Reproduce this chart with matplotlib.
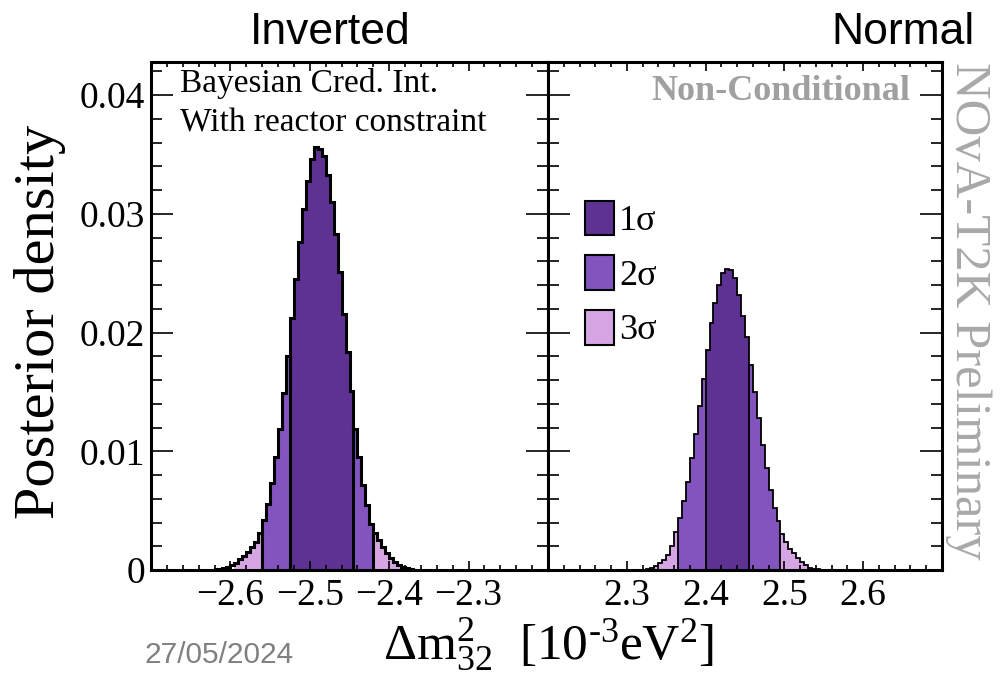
import numpy as np
import matplotlib.pyplot as plt
from matplotlib.patches import Patch
from matplotlib.ticker import MultipleLocator, FuncFormatter

plt.rcParams['font.family'] = ['Liberation Serif', 'DejaVu Serif']
plt.rcParams['mathtext.fontset'] = 'custom'
plt.rcParams['mathtext.rm'] = 'Liberation Serif'
plt.rcParams['mathtext.it'] = 'Liberation Serif:italic'

bin_width = 0.005

# Inverted ordering: posterior density per bin, first bin starts at io_first_edge
io_first_edge = -2.625
io_density = [0.00003, 0.00006, 0.0001, 0.00015, 0.00025, 0.0004, 0.0006, 0.0009,
              0.0012, 0.0015, 0.0019, 0.0024, 0.0031, 0.0042, 0.0056, 0.0073,
              0.0095, 0.0119, 0.0149, 0.0180, 0.0212, 0.0245, 0.0276, 0.0304,
              0.0328, 0.0346, 0.0356, 0.0355, 0.0349, 0.0333, 0.0310, 0.0283,
              0.0251, 0.0216, 0.0184, 0.0151, 0.0119, 0.0095, 0.0072, 0.0055,
              0.0039, 0.0031, 0.0025, 0.0019, 0.0014, 0.0010, 0.0007, 0.0004,
              0.00025, 0.00014, 0.00007, 0.00003]
io_intervals = [(-2.525, -2.445), (-2.560, -2.420), (-2.595, -2.385)]  # 1, 2, 3 sigma
io_ticks = [-2.6, -2.5, -2.4, -2.3]
io_xlim = (-2.7, -2.2)

# Normal ordering
no_first_edge = 2.320
no_density = [0.00003, 0.00007, 0.00014, 0.00034, 0.00056, 0.00084, 0.0013, 0.0020,
              0.0032, 0.0044, 0.0058, 0.0074, 0.0094, 0.0115, 0.0138, 0.0161,
              0.0185, 0.0208, 0.0225, 0.0240, 0.0250, 0.0254, 0.0253, 0.0246,
              0.0232, 0.0214, 0.0196, 0.0173, 0.0150, 0.0128, 0.0105, 0.0086,
              0.0067, 0.0052, 0.0041, 0.0030, 0.0024, 0.0018, 0.0014, 0.0010,
              0.0007, 0.0004, 0.0002, 0.0001, 0.00005]
no_intervals = [(2.400, 2.455), (2.365, 2.495), (2.330, 2.535)]
no_ticks = [2.3, 2.4, 2.5, 2.6]
no_xlim = (2.2, 2.7)

sigma_labels = ['1σ', '2σ', '3σ']
sigma_colors = ['#5e3293', '#8354be', '#d6a6e4']


def draw_panel(ax, first_edge, density, intervals, lw):
    density = np.array(density)
    edges = first_edge + bin_width * np.arange(len(density) + 1)
    centers = 0.5 * (edges[:-1] + edges[1:])
    # fill from widest interval to narrowest
    for (lo, hi), col in list(zip(intervals, sigma_colors))[::-1]:
        inside = (centers > lo) & (centers < hi)
        ax.stairs(np.where(inside, density, 0), edges, fill=True, color=col, linewidth=0)
    ax.stairs(density, edges, color='black', linewidth=lw)
    for lo, hi in intervals[:2]:
        for b in (lo, hi):
            i = np.argmin(np.abs(edges - b))
            ax.vlines(edges[i], 0, min(density[i - 1], density[i]), color='black', linewidth=lw)


fig = plt.figure(figsize=(10.06, 6.73), dpi=100)
W, H = 1006, 673
ax1 = fig.add_axes([151 / W, 103 / H, 397 / W, 508 / H])
ax2 = fig.add_axes([548 / W, 103 / H, 394 / W, 508 / H], sharey=ax1)

draw_panel(ax1, io_first_edge, io_density, io_intervals, 2.2)
draw_panel(ax2, no_first_edge, no_density, no_intervals, 1.3)

ax1.set_xlim(*io_xlim)
ax2.set_xlim(*no_xlim)
ax1.set_xticks(io_ticks)
ax2.set_xticks(no_ticks)
ax1.set_ylim(0, 0.0428)
ax1.yaxis.set_major_locator(MultipleLocator(0.01))
ax1.yaxis.set_minor_locator(MultipleLocator(0.002))
ax1.yaxis.set_major_formatter(FuncFormatter(lambda v, p: '0' if abs(v) < 1e-9 else f'{v:.2f}'))

for ax in (ax1, ax2):
    ax.xaxis.set_minor_locator(MultipleLocator(0.02))
    ax.tick_params(which='both', direction='in', top=True, right=True, width=1.2)
    ax.tick_params(axis='x', which='major', length=6.5, pad=6, labelsize=27)
    ax.tick_params(axis='x', which='minor', length=3.6)
    ax.tick_params(axis='y', which='major', length=15.5, pad=4, labelsize=27)
    ax.tick_params(axis='y', which='minor', length=8)
    for s in ax.spines.values():
        s.set_linewidth(2.2)
ax2.tick_params(axis='y', labelleft=False)

handles = [Patch(facecolor=c, edgecolor='black', linewidth=1.5) for c in sigma_colors]
ax2.legend(handles, sigma_labels, loc='upper left', bbox_to_anchor=(0.094, 0.727),
           frameon=False, fontsize=26, handlelength=0.8, handleheight=1.1,
           handletextpad=0.15, labelspacing=0.47, borderpad=0, borderaxespad=0)


def px(x, y):
    return x / W, 1 - y / H


fig.text(*px(180, 92), 'Bayesian Cred. Int.', fontsize=24, va='baseline')
fig.text(*px(180, 131), 'With reactor constraint', fontsize=24, va='baseline')
fig.text(*px(910, 100), 'Non-Conditional', fontsize=26, fontweight='bold',
         color='#a0a0a0', ha='right', va='baseline')
fig.text(*px(968, 62), 'NOvA-T2K Preliminary', fontsize=36.5, color='#a8a8a8',
         rotation=-90, ha='center', va='top')
fig.text(*px(330, 44), 'Inverted', fontsize=32, family=['Liberation Sans', 'DejaVu Sans'],
         ha='center', va='baseline')
fig.text(*px(975, 44), 'Normal', fontsize=32, family=['Liberation Sans', 'DejaVu Sans'],
         ha='right', va='baseline')
fig.text(*px(145, 663), '27/05/2024', fontsize=21.5, color='#808080',
         family=['Liberation Sans', 'DejaVu Sans'], va='baseline')
fig.text(*px(548, 659), r'$\mathrm{\Delta m^{2}_{32}}$  [10$^{\text{-3}}$eV$^{2}$]',
         fontsize=37, ha='center', va='baseline')
fig.text(*px(40, 322), 'Posterior density', fontsize=42, rotation=90,
         ha='center', va='center')

fig.savefig('out.png', dpi=100)
